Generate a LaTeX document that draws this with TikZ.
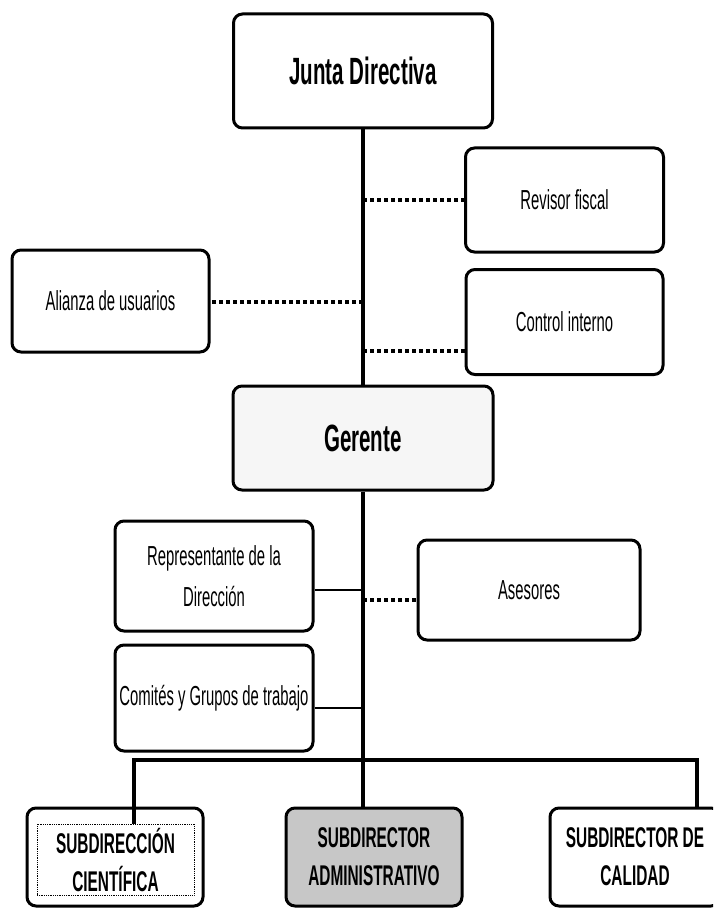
\documentclass[tikz,border=0pt]{standalone}
\usepackage{fontspec}
\setmainfont[FakeStretch=0.54]{Liberation Sans}
\begin{document}
\begin{tikzpicture}[x=1pt,y=-1pt,
  box/.style={draw,line width=3pt,rounded corners=9pt,align=center,inner sep=0pt},
  trunk/.style={line width=3.2pt},
  branch/.style={line width=2.4pt},
  dotline/.style={line width=3.2pt,dash pattern=on 4pt off 3pt},
  small/.style={font=\fontsize{27.5}{41}\selectfont},
  big/.style={font=\bfseries\fontsize{38}{40}\selectfont},
  capt/.style={font=\bfseries\fontsize{28.5}{38}\selectfont}]
\useasboundingbox (0,0) rectangle (713,909);
\clip (0,0) rectangle (713,909);
% boxes
\node[box,big,minimum width=259,minimum height=114] (junta) at (363,71) {Junta Directiva};
\node[box,small,minimum width=198,minimum height=104] (revisor) at (564.5,200) {Revisor fiscal};
\node[box,small,minimum width=197,minimum height=105] (control) at (564.5,322) {Control interno};
\node[box,small,minimum width=197,minimum height=102] (alianza) at (110.5,301) {Alianza de usuarios};
\node[box,big,fill=gray!7,minimum width=260,minimum height=104] (gerente) at (363,438) {Gerente};
\node[box,small,minimum width=198,minimum height=110] (rep) at (214,576) {Representante de la\\Dirección};
\node[box,small,minimum width=222,minimum height=100] (asesores) at (529,590) {Asesores};
\node[box,small,minimum width=198,minimum height=106] (comites) at (214,698) {Comités y Grupos de trabajo};
\node[box,minimum width=176,minimum height=98] (cien) at (115,857) {};
\node[draw,densely dotted,line width=0.8pt,align=center,inner sep=0pt,capt,
      minimum width=157,minimum height=71] (cienin) at (115.5,859.5) {SUBDIRECCIÓN\\CIENTÍFICA};
\node[box,capt,fill=black!22,minimum width=176,minimum height=98] (admin) at (374,857) {SUBDIRECTOR\\ADMINISTRATIVO};
\node[box,capt,minimum width=170,minimum height=98] (calidad) at (635,857) {SUBDIRECTOR DE\\CALIDAD};
% trunk
\draw[trunk] (junta.south) -- (gerente.north);
\draw[trunk] (gerente.south) -- (gerente.south |- admin.north);
\coordinate (barL) at (134,760);
\coordinate (barR) at (697,760);
\draw[trunk] (barL |- cienin.north) -- (barL) -- (barR) -- (barR |- calidad.north);
% dotted staff links
\coordinate (d1) at (363,200);
\draw[dotline] (d1) -- (d1 -| revisor.west);
\coordinate (d2) at (363,302);
\draw[dotline] (d2) -- (d2 -| alianza.east);
\coordinate (d3) at (363,351);
\draw[dotline] (d3) -- (d3 -| control.west);
\coordinate (d4) at (363,600);
\draw[dotline] (d4) -- (d4 -| asesores.west);
% solid links
\coordinate (s1) at (363,590);
\draw[branch] (s1) -- (s1 -| rep.east);
\coordinate (s2) at (363,708);
\draw[branch] (s2) -- (s2 -| comites.east);
\end{tikzpicture}
\end{document}
